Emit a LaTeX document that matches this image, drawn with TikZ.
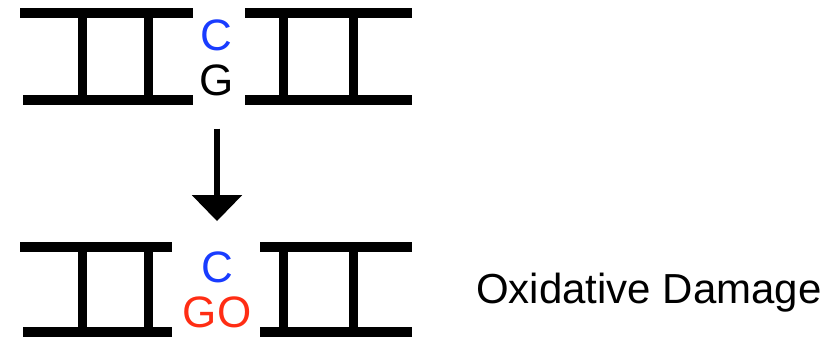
\documentclass[tikz,border=0pt]{standalone}
\usepackage{fontspec}
\setmainfont{Liberation Sans}
\usetikzlibrary{positioning}
\usetikzlibrary{arrows.meta}
\definecolor{baseblue}{RGB}{25,60,255}
\definecolor{basered}{RGB}{255,45,20}

\begin{document}
\begin{tikzpicture}[x=1pt,y=-1pt,
        rail/.style={line width=10pt},
        rung/.style={line width=9pt},
        base/.style={font=\fontsize{44}{44}\selectfont,inner sep=0,anchor=base}]
      \useasboundingbox (0,0) rectangle (830,342);

      % intact pair
      \draw[rail] (20,13) -- (193,13) (23,100) -- (193,100)
                  (245,13) -- (412,13) (245,100) -- (412,100);
      \foreach \x in {82,148,283,353}
        \draw[rung] (\x,13) -- (\x,100);

      % damaged pair
      \draw[rail] (20,246.5) -- (172,246.5) (23,332) -- (172,332)
                  (260,246.5) -- (412,246.5) (260,332) -- (412,332);
      \foreach \x in {82,148,283,353}
        \draw[rung] (\x,246.5) -- (\x,332);

      \node[base,text=baseblue] (C)  at (216,51) {C};
      \node[base]               (G)  at (217,96) {G};
      \node[base,text=baseblue] (C2) at (217,282) {C};
      \node[base,text=basered]  (GO) at (217,327) {GO};
      \node[base,anchor=base west,font=\fontsize{42}{42}\selectfont] (damage) at (476,303) {Oxidative Damage};

      \draw [-{Triangle[width=49pt,length=26pt]},line width=6pt,
             shorten <=32pt,shorten >=30pt] (G) -- (C2);
\end{tikzpicture}
\end{document}
